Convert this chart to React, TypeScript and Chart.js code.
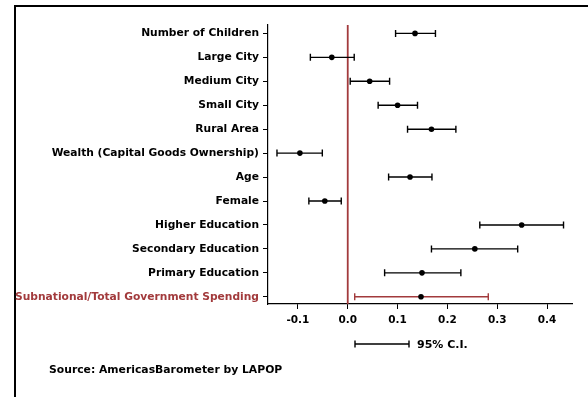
import React, { useEffect, useRef } from "react";
import { Chart, registerables } from "chart.js";

Chart.register(...registerables);

// Coefficient estimates with 95% confidence intervals
const categories = [
  "Number of Children",
  "Large City",
  "Medium City",
  "Small City",
  "Rural Area",
  "Wealth (Capital Goods Ownership)",
  "Age",
  "Female",
  "Higher Education",
  "Secondary Education",
  "Primary Education",
  "Subnational/Total Government Spending",
];
const coef = [0.135, -0.032, 0.044, 0.1, 0.168, -0.096, 0.125, -0.046, 0.349, 0.255, 0.149, 0.147];
const lower = [0.096, -0.075, 0.005, 0.061, 0.12, -0.142, 0.082, -0.078, 0.265, 0.168, 0.074, 0.014];
const upper = [0.176, 0.013, 0.084, 0.14, 0.217, -0.051, 0.169, -0.013, 0.433, 0.341, 0.227, 0.282];
const xTicks = [-0.1, 0, 0.1, 0.2, 0.3, 0.4];
const highlightIndex = 11;

const RED = "#a23a3c";
const FONT = "'DejaVu Sans', 'Liberation Sans', Arial, sans-serif";

const ciPlugin = {
  id: "ciBars",
  beforeDatasetsDraw(chart: any) {
    const { ctx, chartArea, scales } = chart;
    const xs = scales.x;
    const ys = scales.y;
    ctx.save();
    // zero reference line
    const x0 = xs.getPixelForValue(0);
    ctx.strokeStyle = RED;
    ctx.lineWidth = 1.8;
    ctx.beginPath();
    ctx.moveTo(x0, chartArea.top);
    ctx.lineTo(x0, chartArea.bottom);
    ctx.stroke();
    // interval bars
    const cap = 3.5;
    categories.forEach((_, i) => {
      const y = ys.getPixelForValue(i);
      const a = xs.getPixelForValue(lower[i]);
      const b = xs.getPixelForValue(upper[i]);
      ctx.strokeStyle = i === highlightIndex ? RED : "#000";
      ctx.lineWidth = 1.4;
      ctx.beginPath();
      ctx.moveTo(a, y);
      ctx.lineTo(b, y);
      ctx.moveTo(a, y - cap);
      ctx.lineTo(a, y + cap);
      ctx.moveTo(b, y - cap);
      ctx.lineTo(b, y + cap);
      ctx.stroke();
    });
    ctx.restore();
  },
  afterDraw(chart: any) {
    const { ctx, chartArea } = chart;
    ctx.save();
    // legend sample for the interval
    const ly = chartArea.bottom + 40;
    const lx1 = chartArea.left + 87;
    const lx2 = chartArea.left + 141;
    ctx.strokeStyle = "#000";
    ctx.lineWidth = 1.4;
    ctx.beginPath();
    ctx.moveTo(lx1, ly);
    ctx.lineTo(lx2, ly);
    ctx.moveTo(lx1, ly - 3.5);
    ctx.lineTo(lx1, ly + 3.5);
    ctx.moveTo(lx2, ly - 3.5);
    ctx.lineTo(lx2, ly + 3.5);
    ctx.stroke();
    ctx.fillStyle = "#000";
    ctx.textBaseline = "middle";
    ctx.textAlign = "left";
    ctx.font = `bold 11px ${FONT}`;
    ctx.fillText("95% C.I.", lx2 + 8, ly + 1);
    ctx.font = `bold 10.8px ${FONT}`;
    ctx.fillText("Source: AmericasBarometer by LAPOP", 49, ly + 26);
    ctx.restore();
  },
};

export default function App() {
  const ref = useRef<HTMLCanvasElement>(null);

  useEffect(() => {
    if (!ref.current) return;
    const chart = new Chart(ref.current, {
      type: "scatter",
      data: {
        datasets: [
          {
            data: coef.map((v, i) => ({ x: v, y: i })),
            backgroundColor: "#000",
            borderColor: "#000",
            pointRadius: 2.8,
            pointBorderWidth: 0,
          },
        ],
      },
      options: {
        animation: false,
        responsive: false,
        devicePixelRatio: 1,
        layout: { padding: { left: 0, top: 25, right: 16, bottom: 53 } },
        plugins: { legend: { display: false }, tooltip: { enabled: false } },
        scales: {
          x: {
            type: "linear",
            min: -0.16,
            max: 0.45,
            afterBuildTicks: (s: any) => {
              s.ticks = xTicks.map((v) => ({ value: v }));
            },
            afterFit: (s: any) => {
              s.height = 40;
            },
            grid: { drawOnChartArea: false, drawTicks: true, tickLength: 5, color: "#000", lineWidth: 1 },
            border: { display: true, color: "#000", width: 1.2 },
            ticks: {
              color: "#000",
              padding: 5,
              maxRotation: 0,
              font: { family: FONT, weight: "bold", size: 10.5 },
              callback: (v: any) => Number(v).toFixed(1),
            },
          },
          y: {
            type: "linear",
            reverse: true,
            min: -0.35,
            max: 11.3,
            afterBuildTicks: (s: any) => {
              s.ticks = categories.map((_, i) => ({ value: i }));
            },
            afterFit: (s: any) => {
              s.width = 268;
            },
            grid: { drawOnChartArea: false, drawTicks: true, tickLength: 5, color: "#000", lineWidth: 1 },
            border: { display: true, color: "#000", width: 1.2 },
            ticks: {
              padding: 4,
              autoSkip: false,
              font: { family: FONT, weight: "bold", size: 10.7 },
              color: (c: any) => (c.index === highlightIndex ? RED : "#000"),
              callback: (v: any) => categories[Math.round(Number(v))] ?? "",
            },
          },
        },
      },
      plugins: [ciPlugin],
    });
    return () => chart.destroy();
  }, []);

  return (
    <div style={{ position: "fixed", left: 0, top: 0, width: 588, height: 397, overflow: "hidden", background: "#fff" }}>
      <div
        style={{
          position: "absolute",
          left: 14,
          top: 5,
          width: 620,
          height: 420,
          borderTop: "2px solid #000",
          borderLeft: "2px solid #000",
        }}
      />
      <canvas ref={ref} width={588} height={397} style={{ position: "absolute", left: 0, top: 0 }} />
    </div>
  );
}
